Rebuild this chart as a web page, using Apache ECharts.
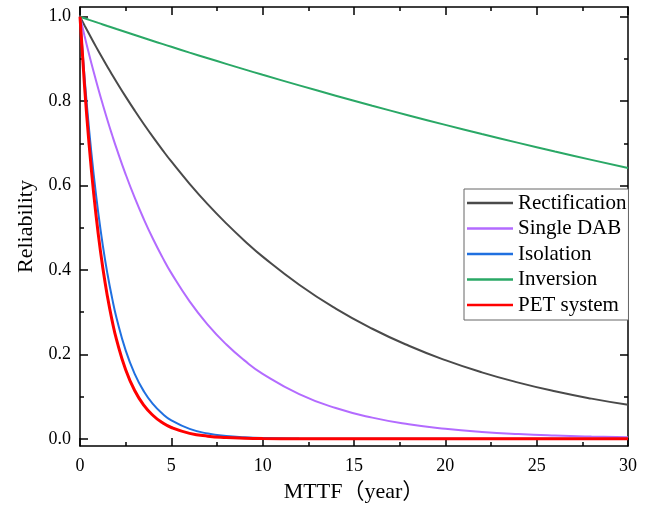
<!DOCTYPE html>
<html>
<head>
<meta charset="utf-8">
<script src="https://cdn.jsdelivr.net/npm/echarts@6/dist/echarts.min.js"></script>
<style>
html,body{margin:0;padding:0;background:#fff;}
#c{width:651px;height:508px;}
</style>
</head>
<body>
<div id="c"></div>
<script>
// MTTF (years) sample points
const years = [0,0.25,0.5,0.75,1,1.25,1.5,1.75,2,2.5,3,3.5,4,4.5,5,6,7,8,9,10,12,14,16,18,20,22,24,26,28,30];
const rectification = [1,0.9792,0.9589,0.9389,0.9194,0.9003,0.8816,0.8633,0.8454,0.8106,0.7773,0.7453,0.7146,0.6852,0.6570,0.6041,0.5554,0.5107,0.4695,0.4317,0.3650,0.3085,0.2608,0.2205,0.1864,0.1575,0.1332,0.1126,0.0952,0.0805];
const singleDAB = [1,0.9543,0.9107,0.8691,0.8294,0.7916,0.7554,0.7209,0.6880,0.6266,0.5706,0.5197,0.4733,0.4311,0.3926,0.3256,0.2701,0.2240,0.1858,0.1541,0.1060,0.0730,0.0502,0.0345,0.0238,0.0163,0.0112,0.0077,0.0053,0.0037];
const isolation = [1,0.8553,0.7316,0.6258,0.5353,0.4578,0.3916,0.3350,0.2865,0.2096,0.1534,0.1122,0.0821,0.0601,0.0439,0.0235,0.0126,0.0067,0.0036,0.0019,0.0006,0.0002,0,0,0,0,0,0,0,0];
const inversion = [1,0.9963,0.9926,0.9890,0.9853,0.9817,0.9780,0.9744,0.9708,0.9637,0.9566,0.9495,0.9425,0.9356,0.9287,0.9150,0.9016,0.8883,0.8753,0.8624,0.8373,0.8129,0.7891,0.7661,0.7438,0.7221,0.7011,0.6806,0.6608,0.6415];
const petSystem = [1,0.8344,0.6963,0.5810,0.4848,0.4045,0.3376,0.2817,0.2350,0.1637,0.1139,0.0793,0.0553,0.0385,0.0268,0.0130,0.0063,0.0031,0.0015,0.0007,0.0002,0,0,0,0,0,0,0,0,0];

const seriesNames = ['Rectification','Single DAB','Isolation','Inversion','PET system'];
const seriesValues = [rectification, singleDAB, isolation, inversion, petSystem];
const seriesColors = ['#4a4a4a','#b36bff','#2070e0','#2aa866','#ff0000'];
const seriesWidths = [2,2,2,2,3];

const yMajorTicks = [0,0.2,0.4,0.6,0.8,1.0];
const yMinorTicks = [0.1,0.3,0.5,0.7,0.9];

const FONT = "'Liberation Serif','Times New Roman',serif";
const FONT_CJK = "'Liberation Serif','Noto Sans CJK SC',serif";

function yAx(pos, ticks, len, label, line, name) {
  const a = {
    type: 'value', position: pos, min: -0.017, max: 1.023,
    axisLine: {show: line, onZero: false, lineStyle: {color: '#000', width: 1.5}},
    axisTick: {show: true, inside: true, length: len, customValues: ticks, lineStyle: {color: '#000', width: 1.5}},
    axisLabel: {show: label, customValues: ticks, margin: 9, color: '#000', fontFamily: FONT, fontSize: 18,
      formatter: v => Number(v).toFixed(1)},
    splitLine: {show: false}
  };
  if (name) {
    a.name = name; a.nameLocation = 'middle'; a.nameGap = 42;
    a.nameTextStyle = {color: '#000', fontFamily: FONT, fontSize: 22};
  }
  return a;
}
function xAx(pos, label, name) {
  const a = {
    type: 'value', position: pos, min: 0, max: 30, interval: 5,
    axisLine: {show: true, onZero: false, lineStyle: {color: '#000', width: 1.5}},
    axisTick: {show: true, inside: true, length: 8, lineStyle: {color: '#000', width: 1.5}},
    minorTick: {show: true, splitNumber: 2, length: 4, lineStyle: {color: '#000', width: 1.5}},
    axisLabel: {show: label, margin: 11, color: '#000', fontFamily: FONT, fontSize: 18},
    splitLine: {show: false}, minorSplitLine: {show: false}
  };
  if (name) {
    a.name = name; a.nameLocation = 'middle'; a.nameGap = 35;
    a.nameTextStyle = {color: '#000', fontFamily: FONT_CJK, fontSize: 22};
  }
  return a;
}

const chart = echarts.init(document.getElementById('c'), null, {renderer: 'canvas'});
chart.setOption({
  animation: false,
  backgroundColor: '#fff',
  grid: {left: 80, right: 23, top: 7, bottom: 59},
  xAxis: [xAx('bottom', true, 'MTTF（year）'), xAx('top', false)],
  yAxis: [
    yAx('left', yMajorTicks, 8, true, true, 'Reliability'),
    yAx('left', yMinorTicks, 4, false, false),
    yAx('right', yMajorTicks, 8, false, true),
    yAx('right', yMinorTicks, 4, false, false)
  ],
  legend: {
    orient: 'vertical', left: 464, top: 189,
    padding: [3.5, 2, 4.5, 3], itemGap: 4.5, itemWidth: 46, itemHeight: 2.5,
    icon: 'rect',
    borderColor: '#666', borderWidth: 1, backgroundColor: '#fff',
    textStyle: {color: '#000', fontFamily: FONT, fontSize: 21, lineHeight: 21},
    data: seriesNames
  },
  series: seriesNames.map((n, i) => ({
    name: n, type: 'line', xAxisIndex: 0, yAxisIndex: 0,
    data: years.map((t, j) => [t, seriesValues[i][j]]),
    symbol: 'none', smooth: 0.5,
    lineStyle: {color: seriesColors[i], width: seriesWidths[i]},
    itemStyle: {color: seriesColors[i]}
  }))
});
</script>
</body>
</html>
